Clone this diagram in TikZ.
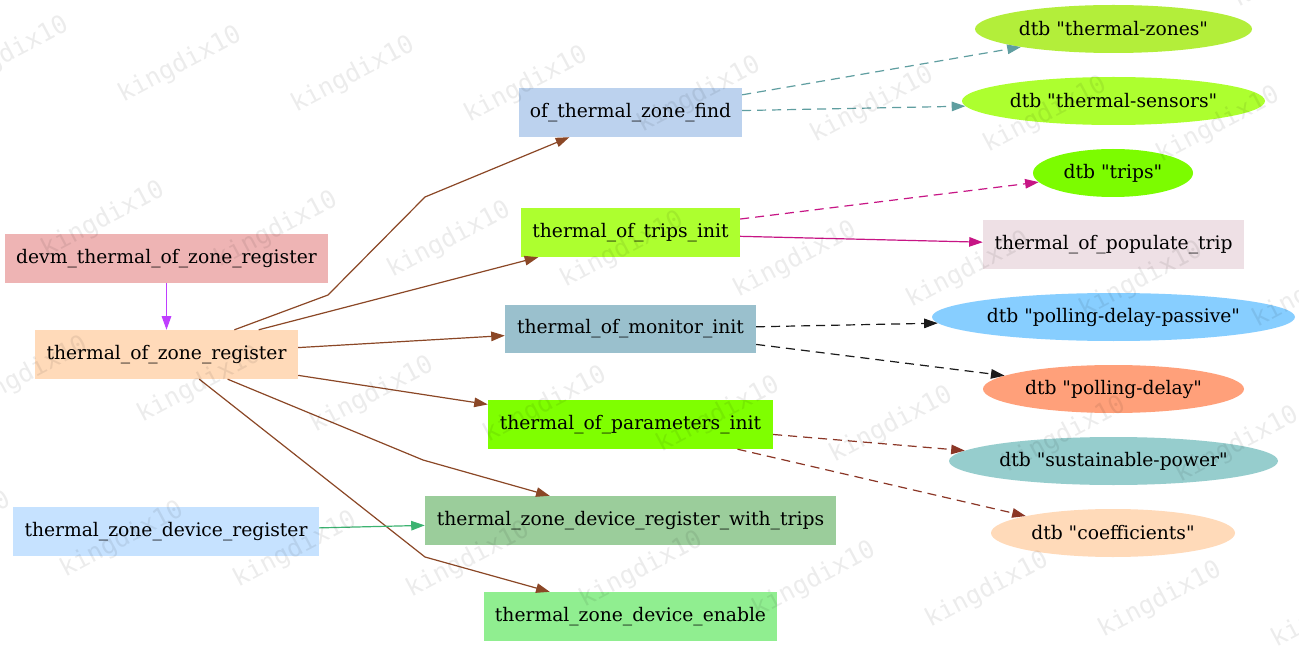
\documentclass[tikz,border=0pt]{standalone}
\usepackage{fontspec}
\setmainfont{DejaVu Serif}
\newfontfamily\wmfont{DejaVu Sans Mono}
\usetikzlibrary{arrows.meta,shapes.geometric}
\newcommand\dq{\textquotedbl}
\definecolor{cDevm}{HTML}{EEB4B4}
\definecolor{cTozr}{HTML}{FFDAB9}
\definecolor{cFind}{HTML}{BCD2EE}
\definecolor{cTrips}{HTML}{ADFF2F}
\definecolor{cMon}{HTML}{9AC0CD}
\definecolor{cPar}{HTML}{7FFF00}
\definecolor{cWith}{HTML}{9BCD9B}
\definecolor{cEn}{HTML}{90EE90}
\definecolor{cTzdr}{HTML}{C6E2FF}
\definecolor{cPop}{HTML}{EEE0E5}
\definecolor{cZones}{HTML}{B3EE3A}
\definecolor{cSens}{HTML}{ADFF2F}
\definecolor{cDtrips}{HTML}{7CFC00}
\definecolor{cPass}{HTML}{87CEFF}
\definecolor{cPd}{HTML}{FFA07A}
\definecolor{cSus}{HTML}{96CDCD}
\definecolor{cCoef}{HTML}{FFDAB9}
\definecolor{eOrchid}{HTML}{BF3EFF}
\definecolor{eSienna}{HTML}{8B4726}
\definecolor{eSea}{HTML}{3CB371}
\definecolor{eCadet}{HTML}{5F9EA0}
\definecolor{eViolet}{HTML}{C71585}
\definecolor{eDark}{HTML}{1A1A1A}
\definecolor{eBrown}{HTML}{8B3626}
\begin{document}
\begin{tikzpicture}[x=1pt,y=-1pt,
  box/.style={rectangle, inner sep=0pt, font=\fontsize{18.7}{22}\selectfont},
  oval/.style={ellipse, inner sep=0pt, minimum height=48pt, font=\fontsize{18.7}{22}\selectfont},
  link/.style={line width=1.2pt, -{Triangle[length=13.6pt,width=9.5pt]}},
  dsh/.style={dash pattern=on 9pt off 6pt},
  wm/.style={font=\wmfont\fontsize{25}{30}\selectfont, text=black, text opacity=0.075, rotate=28, inner sep=0pt}]
\useasboundingbox (0,0) rectangle (1299,647);
\fill[white] (0,0) rectangle (1299,647);
% left column
\node[box, fill=cDevm, minimum width=323pt, minimum height=49pt] (devm) at (166.5,258.5) {devm\_thermal\_of\_zone\_register};
\node[box, fill=cTozr, minimum width=263pt, minimum height=49pt] (tozr) at (166.5,354.5) {thermal\_of\_zone\_register};
\node[box, fill=cTzdr, minimum width=306pt, minimum height=49pt] (tzdr) at (166,531.5) {thermal\_zone\_device\_register};
% middle column
\node[box, fill=cFind, minimum width=223pt, minimum height=49pt] (find) at (630.5,112.5) {of\_thermal\_zone\_find};
\node[box, fill=cTrips, minimum width=219pt, minimum height=49pt] (tinit) at (630.5,232.5) {thermal\_of\_trips\_init};
\node[box, fill=cMon, minimum width=251pt, minimum height=48pt] (mon) at (630.5,329) {thermal\_of\_monitor\_init};
\node[box, fill=cPar, minimum width=285pt, minimum height=49pt] (par) at (630.5,424.5) {thermal\_of\_parameters\_init};
\node[box, fill=cWith, minimum width=411pt, minimum height=49pt] (with) at (630.5,520.5) {thermal\_zone\_device\_register\_with\_trips};
\node[box, fill=cEn, minimum width=293pt, minimum height=49pt] (en) at (630.5,616.5) {thermal\_zone\_device\_enable};
% right column
\node[oval, fill=cZones, minimum width=277pt] (zones) at (1113.5,29) {dtb \dq thermal-zones\dq};
\node[oval, fill=cSens, minimum width=303pt] (sens) at (1113.5,101) {dtb \dq thermal-sensors\dq};
\node[oval, fill=cDtrips, minimum width=160pt] (dtrips) at (1113,173) {dtb \dq trips\dq};
\node[box, fill=cPop, minimum width=261pt, minimum height=49pt] (pop) at (1113.5,244.5) {thermal\_of\_populate\_trip};
\node[oval, fill=cPass, minimum width=363pt] (pass) at (1113.5,317) {dtb \dq polling-delay-passive\dq};
\node[oval, fill=cPd, minimum width=261pt] (pd) at (1113.5,389) {dtb \dq polling-delay\dq};
\node[oval, fill=cSus, minimum width=329pt] (sus) at (1113.5,461) {dtb \dq sustainable-power\dq};
\node[oval, fill=cCoef, minimum width=244pt] (coef) at (1113,533) {dtb \dq coefficients\dq};
% bend points
\coordinate (b1) at (328,295);
\coordinate (b2) at (425,197);
\coordinate (b3) at (423,460);
\coordinate (b4) at (425,557);
% edges
\draw[link, eOrchid] (devm) -- (tozr);
\draw[link, eSienna] (tozr.20) -- (b1) -- (b2) -- (find.202);
\draw[link, eSienna] (tozr.15) -- (tinit.195);
\draw[link, eSienna] (tozr.3) -- (mon.183);
\draw[link, eSienna] (tozr.351) -- (par.172);
\draw[link, eSienna] (tozr.338) -- (b3) -- (with.163);
\draw[link, eSienna] (tozr.323) -- (b4) -- (en.163);
\draw[link, eSea] (tzdr) -- (with);
\draw[link, dsh, eCadet] (find.9) -- (zones.191);
\draw[link, dsh, eCadet] (find.1) -- (sens.182);
\draw[link, dsh, eViolet] (tinit.7) -- (dtrips.187);
\draw[link, eViolet] (tinit.358) -- (pop.179);
\draw[link, dsh, eDark] (mon.1) -- (pass.182);
\draw[link, dsh, eDark] (mon.353) -- (pd.173);
\draw[link, dsh, eBrown] (par.356) -- (sus.176);
\draw[link, dsh, eBrown] (par.347) -- (coef.169);
% watermark
\begin{scope}
\clip (0,0) rectangle (1299,647);
\foreach \r in {-1,...,4} {
  \foreach \k in {-2,...,8} {
    \node[wm] (wm\r\k) at ({180+173*\k-77*\r},{65+10*\k+155*\r}) {kingdix10};
  }
}
\end{scope}
\end{tikzpicture}
\end{document}
